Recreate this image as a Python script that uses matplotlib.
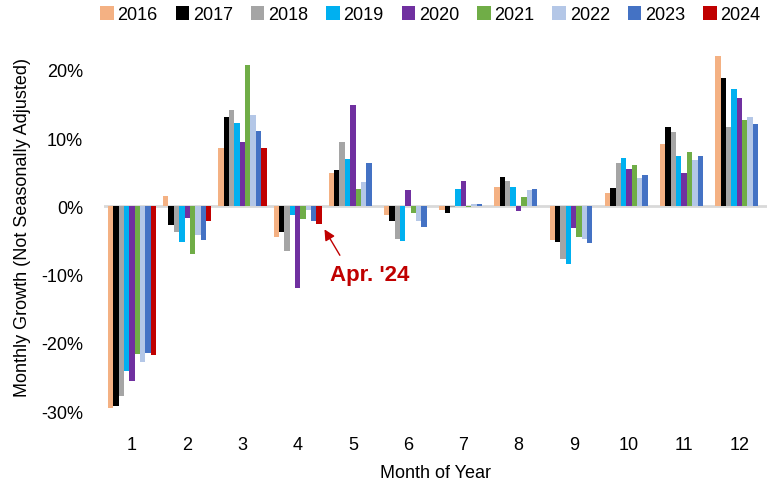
import numpy as np
import matplotlib
matplotlib.use('Agg')
import matplotlib.pyplot as plt
from matplotlib.ticker import FuncFormatter

plt.rcParams['font.family'] = ['Liberation Sans', 'DejaVu Sans']

# data (monthly growth, %)
months = [1, 2, 3, 4, 5, 6, 7, 8, 9, 10, 11, 12]
years = ['2016', '2017', '2018', '2019', '2020', '2021', '2022', '2023', '2024']
colors = ['#F4B183', '#000000', '#A5A5A5', '#00B0F0', '#7030A0',
          '#70AD47', '#B4C7E7', '#4472C4', '#C00000']

g2016 = [-29.6, 1.5, 8.6, -4.5, 4.9, -1.3, -0.5, 2.9, -4.9, 2.0, 9.2, 22.1]
g2017 = [-29.2, -2.7, 13.1, -3.7, 5.3, -2.2, -0.9, 4.3, -5.2, 2.7, 11.6, 18.8]
g2018 = [-27.7, -3.7, 14.1, -6.5, 9.5, -4.7, -0.1, 3.8, -7.7, 6.4, 10.9, 11.6]
g2019 = [-24.1, -5.2, 12.3, -1.3, 6.9, -5.1, 2.6, 2.8, -8.5, 7.1, 7.4, 17.2]
g2020 = [-25.5, -1.7, 9.4, -11.9, 14.8, 2.4, 3.8, -0.7, -3.2, 5.5, 4.9, 15.9]
g2021 = [-21.6, -7.0, 20.7, -1.9, 2.6, -0.9, -0.1, 1.4, -4.5, 6.1, 8.0, 12.6]
g2022 = [-22.8, -4.2, 13.4, -0.5, 3.6, -2.2, 0.3, 2.4, -4.8, 4.1, 6.8, 13.1]
g2023 = [-21.4, -4.9, 11.1, -2.2, 6.4, -3.0, 0.3, 2.6, -5.4, 4.6, 7.4, 12.1]
g2024 = [-21.7, -2.1, 8.5, -2.5] + [np.nan] * 8

series = [g2016, g2017, g2018, g2019, g2020, g2021, g2022, g2023, g2024]

fig = plt.figure(figsize=(7.81, 4.85), dpi=100)
ax = fig.add_axes([0.133, 0.136, 0.849, 0.788])

w = 0.097
x = np.array(months, dtype=float)
for i, (yr, vals, c) in enumerate(zip(years, series, colors)):
    ax.bar(x + (i - 4) * w, vals, width=w, color=c, label=yr, zorder=3)

ax.axhline(0, color='#D9D9D9', lw=2, zorder=2)

ax.set_xlim(0.49, 12.5)
ax.set_ylim(-31, 25)
ax.set_xticks(months)
ax.set_yticks([-30, -20, -10, 0, 10, 20])
ax.yaxis.set_major_formatter(FuncFormatter(lambda v, p: '%d%%' % v))
ax.tick_params(length=0, labelsize=13)
ax.tick_params(axis='y', pad=15)
ax.tick_params(axis='x', pad=13)
for s in ax.spines.values():
    s.set_visible(False)

ax.set_xlabel('Month of Year', fontsize=13, labelpad=8)
ax.set_ylabel('Monthly Growth (Not Seasonally Adjusted)', fontsize=13, labelpad=7)

# annotation pointing at April 2024
ax.annotate('', xy=(4.46, -3.0), xytext=(4.79, -7.5),
            arrowprops=dict(arrowstyle='-|>', color='#C00000', lw=1,
                            mutation_scale=16), zorder=4)
ax.text(4.59, -10.0, "Apr. '24", color='#C00000', fontsize=16,
        fontweight='bold', ha='left', va='center')

fig.legend(loc='upper center', bbox_to_anchor=(0.551, 1.0), ncol=9,
           frameon=False, fontsize=13, handlelength=0.75, handleheight=0.75,
           handletextpad=0.2, columnspacing=1.0, borderaxespad=0)

fig.savefig('out.png', dpi=100)
